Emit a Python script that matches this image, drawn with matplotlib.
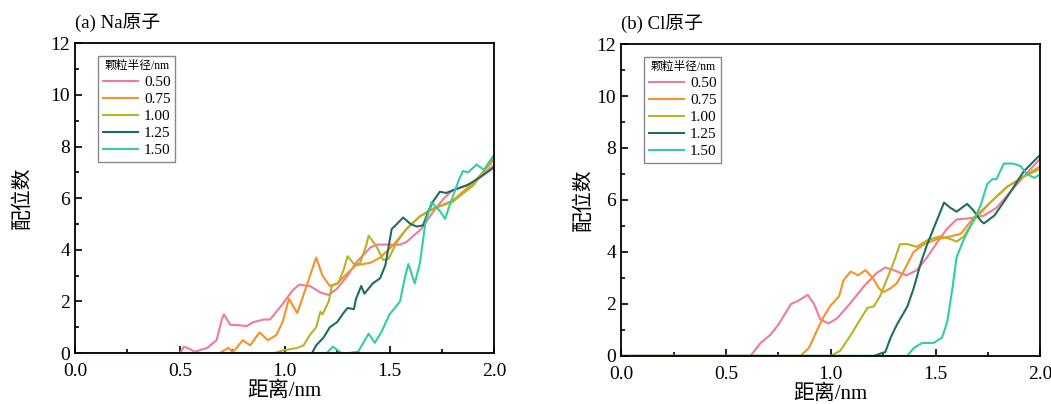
import numpy as np
from matplotlib import pyplot as plt

plt.rcParams['font.family'] = ['Liberation Serif', 'Noto Sans CJK SC']
plt.rcParams['axes.unicode_minus'] = False

radii = ['0.50', '0.75', '1.00', '1.25', '1.50']
colors = ['#ee7b97', '#f5922a', '#b6b324', '#1f6d60', '#33cca3']

# (a) Na
na_x = {
    '0.50': [0, 0.50, 0.52, 0.55, 0.57, 0.63, 0.675, 0.70, 0.71, 0.74, 0.78, 0.82, 0.85, 0.90, 0.93,
             0.99, 1.04, 1.07, 1.12, 1.17, 1.21, 1.25, 1.30, 1.34, 1.41, 1.44, 1.50, 1.55, 1.58,
             1.65, 1.71, 1.76, 1.80, 1.90, 2.0],
    '0.75': [0, 0.69, 0.73, 0.755, 0.80, 0.835, 0.88, 0.92, 0.96, 0.99, 1.02, 1.06, 1.10, 1.15,
             1.18, 1.215, 1.25, 1.30, 1.34, 1.41, 1.455, 1.52, 1.58, 1.645, 1.71, 1.80, 1.90, 2.0],
    '1.00': [0, 0.95, 0.99, 1.06, 1.09, 1.12, 1.15, 1.17, 1.18, 1.21, 1.225, 1.255, 1.28, 1.30,
             1.335, 1.36, 1.39, 1.40, 1.44, 1.47, 1.495, 1.535, 1.58, 1.645, 1.71, 1.80, 1.90, 2.0],
    '1.25': [0, 1.13, 1.15, 1.185, 1.215, 1.25, 1.28, 1.30, 1.33, 1.34, 1.365, 1.38, 1.41, 1.42,
             1.455, 1.48, 1.495, 1.51, 1.535, 1.565, 1.60, 1.63, 1.66, 1.685, 1.71, 1.74, 1.77,
             1.80, 1.87, 1.93, 2.0],
    '1.50': [0, 1.20, 1.23, 1.27, 1.30, 1.35, 1.375, 1.40, 1.43, 1.46, 1.50, 1.55, 1.575, 1.59,
             1.62, 1.645, 1.67, 1.70, 1.74, 1.765, 1.79, 1.83, 1.85, 1.875, 1.915, 1.95, 2.0],
}
na_y = {
    '0.50': [0, 0, 0.25, 0.15, 0.05, 0.2, 0.5, 1.3, 1.5, 1.1, 1.08, 1.05, 1.2, 1.3, 1.3,
             1.9, 2.45, 2.65, 2.6, 2.35, 2.25, 2.5, 3.0, 3.5, 4.1, 4.2, 4.2, 4.2, 4.3,
             4.8, 5.5, 6.0, 6.3, 6.6, 7.3],
    '0.75': [0, 0, 0.2, 0.05, 0.5, 0.3, 0.8, 0.5, 0.7, 1.2, 2.1, 1.55, 2.5, 3.7,
             3.0, 2.6, 2.7, 3.1, 3.4, 3.5, 3.7, 4.2, 4.8, 5.3, 5.6, 5.9, 6.6, 7.5],
    '1.00': [0, 0, 0.1, 0.2, 0.3, 0.7, 1.0, 1.6, 1.5, 2.0, 2.6, 2.7, 3.2, 3.75,
             3.4, 3.5, 4.2, 4.55, 4.1, 3.6, 3.65, 4.3, 4.8, 5.3, 5.6, 5.85, 6.5, 7.6],
    '1.25': [0, 0, 0.3, 0.6, 1.0, 1.2, 1.55, 1.75, 1.7, 2.1, 2.6, 2.3, 2.6, 2.7,
             2.9, 3.4, 4.1, 4.8, 5.0, 5.25, 5.0, 4.9, 4.95, 5.5, 5.9, 6.25, 6.2,
             6.3, 6.5, 6.8, 7.2],
    '1.50': [0, 0, 0.25, 0, 0, 0.05, 0.4, 0.75, 0.4, 0.8, 1.5, 2.0, 3.0, 3.45,
             2.7, 3.5, 5.0, 5.85, 5.5, 5.2, 5.8, 6.7, 7.05, 7.0, 7.3, 7.1, 7.7],
}

# (b) Cl
cl_x = {
    '0.50': [0, 0.617, 0.665, 0.71, 0.75, 0.81, 0.84, 0.89, 0.92, 0.95, 0.99, 1.03, 1.09, 1.16,
             1.22, 1.26, 1.30, 1.36, 1.41, 1.46, 1.51, 1.555, 1.60, 1.665, 1.73, 1.79, 1.855,
             1.92, 2.0],
    '0.75': [0, 0.855, 0.895, 0.935, 0.965, 1.0, 1.04, 1.06, 1.095, 1.13, 1.165, 1.20, 1.23,
             1.25, 1.285, 1.315, 1.35, 1.395, 1.445, 1.51, 1.57, 1.62, 1.68, 1.76, 1.84, 1.92, 2.0],
    '1.00': [0, 1.0, 1.045, 1.095, 1.14, 1.175, 1.205, 1.235, 1.27, 1.30, 1.33, 1.365, 1.41,
             1.46, 1.52, 1.57, 1.60, 1.635, 1.68, 1.76, 1.84, 1.92, 2.0],
    '1.25': [0, 1.205, 1.24, 1.26, 1.285, 1.315, 1.365, 1.395, 1.43, 1.46, 1.50, 1.54, 1.57,
             1.60, 1.65, 1.68, 1.715, 1.73, 1.78, 1.84, 1.92, 2.0],
    '1.50': [0, 1.365, 1.395, 1.435, 1.49, 1.53, 1.555, 1.58, 1.60, 1.635, 1.68, 1.715, 1.745,
             1.77, 1.79, 1.825, 1.87, 1.905, 1.935, 1.97, 2.0],
}
cl_y = {
    '0.50': [0, 0, 0.5, 0.8, 1.2, 2.0, 2.1, 2.35, 2.0, 1.4, 1.25, 1.45, 2.0, 2.7,
             3.2, 3.4, 3.3, 3.1, 3.3, 3.8, 4.4, 4.9, 5.25, 5.3, 5.4, 5.7, 6.3,
             6.9, 7.6],
    '0.75': [0, 0, 0.3, 1.0, 1.5, 1.95, 2.3, 2.9, 3.25, 3.1, 3.3, 3.0, 2.6,
             2.45, 2.6, 2.8, 3.3, 4.0, 4.3, 4.5, 4.6, 4.7, 5.3, 5.9, 6.5, 6.9, 7.3],
    '1.00': [0, 0, 0.2, 0.8, 1.4, 1.85, 1.9, 2.3, 3.0, 3.6, 4.3, 4.3, 4.2,
             4.45, 4.6, 4.5, 4.4, 4.6, 5.2, 5.9, 6.5, 6.9, 7.2],
    '1.25': [0, 0, 0.1, 0.15, 0.7, 1.2, 1.9, 2.6, 3.6, 4.3, 5.1, 5.9, 5.7,
             5.55, 5.85, 5.6, 5.2, 5.1, 5.4, 6.1, 7.1, 7.75],
    '1.50': [0, 0, 0.3, 0.5, 0.5, 0.7, 1.3, 2.6, 3.8, 4.5, 5.2, 5.8, 6.6,
             6.8, 6.8, 7.4, 7.4, 7.3, 7.0, 6.85, 7.0],
}

panels = [
    ('(a) Na原子', na_x, na_y, [0.0714, 0.126, 0.399, 0.767], 13),
    ('(b) Cl原子', cl_x, cl_y, [0.591, 0.119, 0.399, 0.772], 2),
]

fig = plt.figure(figsize=(10.51, 4.04), dpi=100)

for title, xs, ys, rect, ypad in panels:
    ax = fig.add_axes(rect)
    for r, c in zip(radii, colors):
        ax.plot(xs[r], ys[r], color=c, lw=1.5, label=r)
    ax.set_xlim(0, 2)
    ax.set_ylim(0, 12)
    ax.set_xticks([0, 0.5, 1.0, 1.5, 2.0])
    ax.set_xticks(np.arange(0, 2.01, 0.25), minor=True)
    ax.set_yticks(range(0, 13, 2))
    ax.set_yticks(range(0, 13, 1), minor=True)
    ax.xaxis.set_major_formatter(plt.FormatStrFormatter('%.1f'))
    ax.tick_params(which='both', direction='in', labelsize=14, width=1.2)
    ax.tick_params(which='major', length=5)
    ax.tick_params(which='minor', length=3)
    ax.tick_params(axis='x', pad=7)
    for s in ax.spines.values():
        s.set_linewidth(1.3)
    ax.set_xlabel('距离/nm', fontsize=15, labelpad=1)
    ax.set_ylabel('配位数', fontsize=15, labelpad=ypad)
    ax.text(0.0, 1.035, title, transform=ax.transAxes, fontsize=13.5, ha='left', va='bottom')
    leg = ax.legend(title='颗粒半径/nm', loc='upper left', bbox_to_anchor=(0.055, 0.96),
                    fontsize=11, title_fontsize=8.5, fancybox=False, framealpha=1,
                    edgecolor='#888888', handlelength=2.3, handletextpad=0.4,
                    labelspacing=0.22, borderpad=0.3, borderaxespad=0)
    leg.get_frame().set_linewidth(1.0)

fig.savefig('out.png', dpi=100)
